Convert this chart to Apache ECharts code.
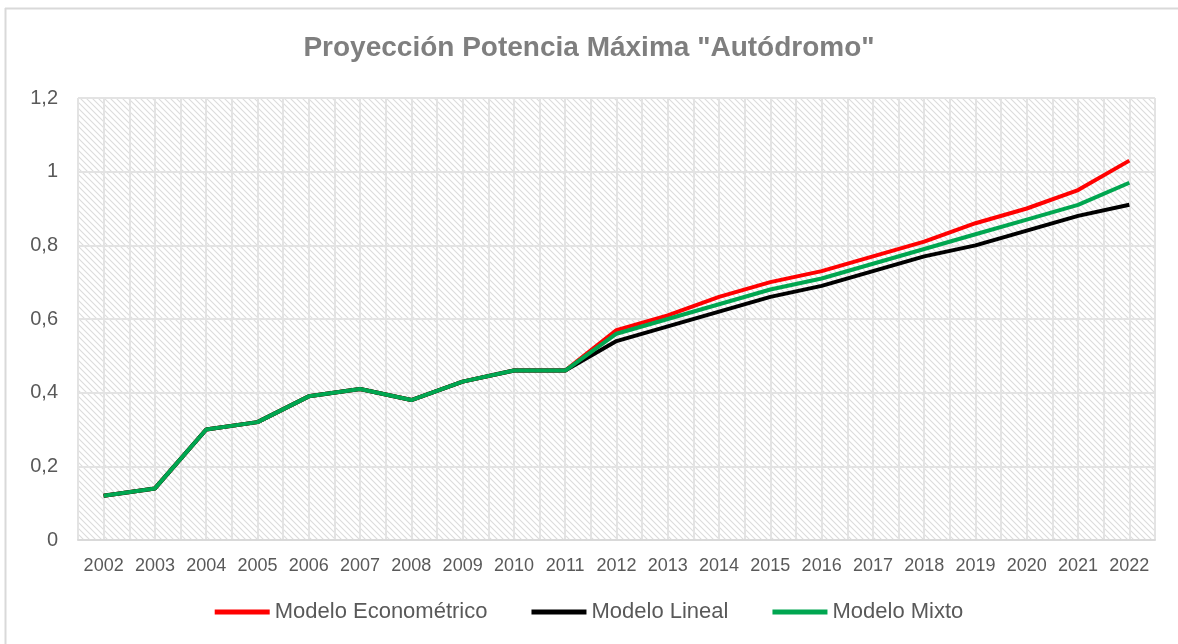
<!DOCTYPE html>
<html>
<head>
<meta charset="utf-8">
<script src="https://cdn.jsdelivr.net/npm/echarts@6/dist/echarts.min.js"></script>
<style>
  html, body { margin: 0; padding: 0; background: #fff; }
  #chart { width: 1178px; height: 644px; }
</style>
</head>
<body>
<div id="chart"></div>
<script>
var years = ['2002','2003','2004','2005','2006','2007','2008','2009','2010','2011',
             '2012','2013','2014','2015','2016','2017','2018','2019','2020','2021','2022'];
var econometrico = [0.12,0.14,0.30,0.32,0.39,0.41,0.38,0.43,0.46,0.46,
                    0.57,0.61,0.66,0.70,0.73,0.77,0.81,0.86,0.90,0.95,1.03];
var lineal = [0.12,0.14,0.30,0.32,0.39,0.41,0.38,0.43,0.46,0.46,
              0.54,0.58,0.62,0.66,0.69,0.73,0.77,0.80,0.84,0.88,0.91];
var mixto = [0.12,0.14,0.30,0.32,0.39,0.41,0.38,0.43,0.46,0.46,
             0.56,0.60,0.64,0.68,0.71,0.75,0.79,0.83,0.87,0.91,0.97];

// half-category slots, only used to draw the extra vertical grid lines
var halfSlots = [];
for (var i = 0; i < years.length * 2; i++) halfSlots.push(String(i));

// diagonal hatch for the plot background
function hatch() {
  var c = document.createElement('canvas');
  c.width = 6; c.height = 6;
  var g = c.getContext('2d');
  g.fillStyle = '#ffffff';
  g.fillRect(0, 0, 6, 6);
  g.strokeStyle = '#dcdcdc';
  g.lineWidth = 1.1;
  g.beginPath();
  g.moveTo(-1, -1); g.lineTo(7, 7);
  g.moveTo(-4, 2); g.lineTo(4, 10);
  g.moveTo(2, -4); g.lineTo(10, 4);
  g.stroke();
  return { image: c, repeat: 'repeat' };
}

var stackChart = echarts.init(document.getElementById('chart'));

option = {
  animation: false,
  backgroundColor: '#fff',
  title: {
    text: 'Proyección Potencia Máxima "Autódromo"',
    left: 'center',
    top: 29,
    textStyle: {
      fontFamily: 'Liberation Sans',
      fontWeight: 'bold',
      fontSize: 28,
      color: '#7f7f7f'
    }
  },
  graphic: [
    { type: 'line', shape: { x1: 5.5, y1: 8, x2: 5.5, y2: 644 }, style: { stroke: '#d9d9d9', lineWidth: 2 } },
    { type: 'line', shape: { x1: 5, y1: 8.5, x2: 1178, y2: 8.5 }, style: { stroke: '#d9d9d9', lineWidth: 2 } }
  ],
  legend: {
    bottom: 16,
    left: 'center',
    icon: 'rect',
    itemWidth: 55,
    itemHeight: 5,
    itemGap: 44,
    textStyle: { fontFamily: 'Liberation Sans', fontSize: 22, color: '#595959' },
    data: ['Modelo Econométrico', 'Modelo Lineal', 'Modelo Mixto']
  },
  grid: {
    left: 78,
    right: 23,
    top: 98,
    bottom: 104,
    show: true,
    borderWidth: 0,
    backgroundColor: hatch()
  },
  xAxis: [
    {
      type: 'category',
      data: years,
      boundaryGap: true,
      axisLine: { lineStyle: { color: '#d9d9d9', width: 2 } },
      axisTick: { show: false },
      axisLabel: { interval: 0, fontFamily: 'Liberation Sans', fontSize: 18, color: '#595959', margin: 17 },
      splitLine: { show: true, interval: 0, lineStyle: { color: '#e3e3e3', width: 2 } }
    },
    {
      type: 'category',
      data: halfSlots,
      boundaryGap: true,
      position: 'bottom',
      axisLine: { show: false },
      axisTick: { show: false },
      axisLabel: { show: false },
      splitLine: { show: true, interval: 0, lineStyle: { color: '#e3e3e3', width: 2 } }
    }
  ],
  yAxis: {
    type: 'value',
    min: 0,
    max: 1.2,
    interval: 0.2,
    axisLine: { show: false },
    axisTick: { show: false },
    axisLabel: {
      fontFamily: 'Liberation Sans',
      fontSize: 20,
      color: '#595959',
      margin: 20,
      formatter: function (v) { return String(Math.round(v * 10) / 10).replace('.', ','); }
    },
    splitLine: { show: true, lineStyle: { color: '#e3e3e3', width: 2 } }
  },
  series: [
    {
      name: 'Modelo Econométrico',
      type: 'line',
      data: econometrico,
      symbol: 'none',
      lineStyle: { color: '#ff0000', width: 4 },
      itemStyle: { color: '#ff0000' }
    },
    {
      name: 'Modelo Lineal',
      type: 'line',
      data: lineal,
      symbol: 'none',
      lineStyle: { color: '#000000', width: 4 },
      itemStyle: { color: '#000000' }
    },
    {
      name: 'Modelo Mixto',
      type: 'line',
      data: mixto,
      symbol: 'none',
      lineStyle: { color: '#00a650', width: 4 },
      itemStyle: { color: '#00a650' }
    }
  ]
};

stackChart.setOption(option);
</script>
</body>
</html>
